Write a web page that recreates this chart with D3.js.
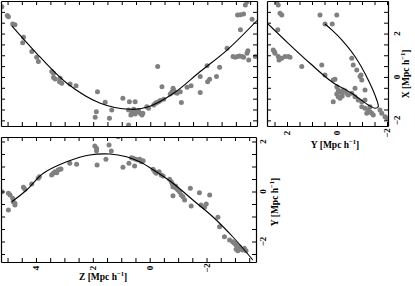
<!DOCTYPE html>
<html>
<head>
<meta charset="utf-8">
<script src="https://cdn.jsdelivr.net/npm/d3@7/dist/d3.min.js"></script>
<style>
  body { margin: 0; background: #fff; }
  svg { display: block; }
  .lbl { font-family: "Liberation Serif", "DejaVu Serif", serif; font-weight: bold; fill: #000; }
</style>
</head>
<body>
<div id="chart"></div>
<script>
// projected positions [Mpc/h]: top-left Z-X, top-right Y-X, bottom Z-Y
const zxPoints = [
  [5.20, 3.24], [5.01, 2.83], [4.97, 2.78], [4.82, 2.44], [4.74, 2.40], [4.44, 1.83], [4.47, 1.58],
  [4.15, 1.17], [3.98, 0.91], [3.92, 0.71], [3.45, 0.25], [3.39, 0.17], [3.39, -0.02], [3.33, -0.09],
  [3.16, -0.06], [3.18, -0.22], [3.10, -0.29], [2.81, -0.32], [2.60, -0.41], [1.85, -0.68], [1.58, -1.17],
  [1.35, -1.52], [1.89, -1.60], [1.93, -1.86], [1.43, -1.90], [0.96, -0.98], [0.73, -1.14], [0.53, -1.14],
  [0.76, -1.52], [0.64, -1.60], [0.58, -1.49], [0.47, -1.60], [0.41, -1.55], [0.35, -1.67], [0.68, -1.75],
  [0.53, -1.71], [0.29, -1.75], [0.26, -1.67], [0.76, -2.21], [0.06, -1.44], [0.12, -1.37], [-0.12, -1.29],
  [-0.18, -1.21], [-0.23, -1.18], [-0.29, -1.14], [-0.35, -1.09], [-0.47, -1.03], [-0.26, 0.48], [-0.41, -0.45],
  [-0.70, -0.78], [-0.76, -0.68], [-0.82, -0.60], [-0.80, -0.52], [-0.88, -0.72], [-0.94, -0.75], [-1.05, -0.68],
  [-1.09, -1.18], [-1.29, -0.48], [-1.43, -0.41], [-1.75, -0.72], [-1.75, 0.02], [-1.99, 0.52], [-2.01, -0.22],
  [-2.08, -0.11], [-2.32, 0.02], [-2.43, 0.45], [-2.69, 1.32], [-2.90, 0.94], [-2.98, 0.91], [-3.06, 0.94],
  [-3.13, 0.97], [-3.22, 0.94], [-3.27, 0.91], [-3.42, 1.21], [-3.39, 1.09], [-3.45, 0.78], [-3.68, 0.94],
  [-3.06, 2.86], [-3.16, 2.87], [-3.27, 2.90], [-3.16, 2.17], [-3.33, 3.32], [-3.39, 3.47], [-3.57, 2.66]
];
const zxCurve = [
  [4.85, 2.35], [4.09, 1.24], [2.92, -0.29], [1.75, -1.21], [0.70, -1.49], [0.12, -1.40],
  [-0.82, -0.75], [-1.75, 0.25], [-2.69, 1.24], [-3.74, 2.60]
];

const yxPoints = [
  [2.41, 3.47], [2.35, 3.32], [2.28, 2.93], [2.21, 2.86], [0.68, 2.86], [0.01, 2.86], [0.48, 2.44],
  [0.19, 2.44], [2.37, 2.17], [2.55, 1.24], [2.51, 1.17], [2.48, 1.09], [2.35, 0.94], [2.21, 0.86],
  [2.08, 0.94], [1.95, 0.94], [1.88, 0.91], [2.32, 0.78], [1.41, 0.48], [0.61, 0.55], [-0.59, 0.86],
  [-0.65, 0.55], [-0.79, 0.32], [-0.92, 0.02], [-0.99, -0.14], [-0.96, 0.09], [0.48, 0.09], [0.15, -0.14],
  [0.08, -0.11], [0.01, -0.45], [-0.05, -0.60], [-0.12, -0.68], [-0.19, -0.72], [-0.25, -0.60], [-0.32, -0.63],
  [-0.39, -0.75], [-0.45, -0.83], [0.01, -0.78], [-0.05, -0.91], [-0.12, -0.98], [-0.21, -0.88], [-0.59, -0.75],
  [-0.72, -0.91], [-0.85, -1.06], [-0.99, -1.14], [-1.12, -1.06], [0.15, -1.14], [-0.72, -0.52], [-1.12, -0.60],
  [-0.99, -1.37], [-1.12, -1.44], [-1.25, -1.52], [-1.32, -1.60], [-1.39, -1.67], [-1.45, -1.75], [-1.19, -1.67],
  [-1.32, -1.37], [-1.72, -1.52], [-1.79, -1.67], [-1.92, -1.83], [-1.99, -1.90]
];
const yxCurve = [
  [2.81, 2.50], [1.95, 1.55], [1.08, 0.63], [0.21, -0.22], [-0.59, -0.75], [-1.25, -1.29], [-1.52, -1.44],
  [-1.65, -1.37], [-1.59, -1.06], [-1.25, -0.14], [-0.72, 0.94], [-0.19, 1.71], [0.21, 2.17], [0.48, 2.44]
];

const zyPoints = [
  [5.20, -0.01], [4.97, -0.07], [4.91, -0.14], [4.82, -0.27], [4.80, -0.41], [4.74, -0.47], [4.74, -0.54],
  [4.97, -0.74], [4.44, 0.17], [4.39, 0.09], [4.15, 0.30], [3.92, 0.53], [3.88, 0.59], [3.45, 0.66],
  [3.39, 0.73], [3.33, 0.79], [3.27, 0.75], [3.22, 0.86], [3.16, 0.89], [3.12, 0.90], [2.81, 1.13],
  [2.57, 1.09], [1.93, 1.82], [1.87, 1.73], [1.87, 1.63], [1.85, 1.06], [1.54, 1.29], [1.43, 1.86],
  [1.35, 1.62], [1.11, 2.19], [0.94, 0.97], [0.73, 1.13], [0.64, 1.35], [0.58, 1.33], [0.53, 1.02],
  [0.49, 1.29], [0.41, 1.26], [0.35, 1.29], [0.29, 1.19], [0.23, 1.23], [-0.12, 0.89], [-0.18, 0.79],
  [-0.23, 0.73], [-0.33, 0.79], [-0.41, 0.66], [-0.47, 0.62], [-0.70, 0.49], [-0.76, 0.39], [-0.80, 0.30],
  [-0.82, 0.19], [-0.88, 0.17], [-0.91, 0.22], [-0.94, 0.13], [-0.99, 0.06], [-1.05, -0.01], [-1.11, -0.14],
  [-0.82, -0.17], [-1.17, -0.21], [-1.23, -0.34], [-1.43, 0.13], [-1.46, -0.58], [-1.75, -0.05], [-1.81, -0.54],
  [-1.93, -0.63], [-1.99, -0.50], [-2.11, -0.14], [-2.40, -1.03], [-2.46, -1.41], [-2.63, -1.81], [-2.81, -1.94],
  [-2.92, -2.01], [-2.98, -2.07], [-3.04, -2.14], [-3.10, -2.27], [-3.16, -2.21], [-3.22, -2.31], [-3.27, -2.34],
  [-3.33, -2.27], [-3.39, -2.37], [-3.04, -2.31], [-3.10, -2.37]
];
const zyCurve = [
  [4.85, -0.41], [4.33, 0.06], [3.74, 0.73], [2.92, 1.19], [2.11, 1.46], [1.40, 1.50], [0.82, 1.39],
  [0.35, 1.19], [-0.23, 0.79], [-0.82, 0.33], [-1.52, -0.34], [-2.22, -1.01], [-2.92, -1.81], [-3.63, -2.74]
];

const zLabels = [4, 2, 0, -2];
const yLabels = [2, 0, -2];
const xLabels = [2, 0, -2];

const svg = d3.select("#chart").append("svg")
  .attr("width", 415)
  .attr("height", 286);

const zDomain = [5.23, -3.74];
const xDomain = [3.5, -2.26];

function fmt(v) { return v < 0 ? "\u2212" + Math.abs(v) : String(v); }

function panel(id, x, y, pts, curve) {
  const [x0, x1] = x.range();
  const [y0, y1] = y.range();

  svg.append("clipPath").attr("id", id)
    .append("rect").attr("x", x0).attr("y", y0).attr("width", x1 - x0).attr("height", y1 - y0);

  const g = svg.append("g").attr("clip-path", `url(#${id})`);
  g.selectAll("circle")
    .data(pts)
    .enter()
    .append("circle")
    .attr("cx", d => x(d[0]))
    .attr("cy", d => y(d[1]))
    .attr("r", 2.5)
    .attr("fill", "#808080");

  const line = d3.line()
    .x(d => x(d[0]))
    .y(d => y(d[1]))
    .curve(d3.curveCatmullRom.alpha(0.5));

  g.append("path")
    .datum(curve)
    .attr("fill", "none")
    .attr("stroke", "#000")
    .attr("stroke-width", 1.1)
    .attr("d", line);

  // frame with inward ticks every 0.5
  const xt = d3.range(Math.ceil(Math.min(...x.domain()) * 2) / 2, Math.max(...x.domain()), 0.5);
  const yt = d3.range(Math.ceil(Math.min(...y.domain()) * 2) / 2, Math.max(...y.domain()), 0.5);
  const frame = svg.append("g");
  frame.append("g").attr("transform", `translate(0,${y1})`)
    .call(d3.axisBottom(x).tickValues(xt).tickSize(-4).tickSizeOuter(0).tickFormat(""));
  frame.append("g").attr("transform", `translate(0,${y0})`)
    .call(d3.axisTop(x).tickValues(xt).tickSize(-4).tickSizeOuter(0).tickFormat(""));
  frame.append("g").attr("transform", `translate(${x0},0)`)
    .call(d3.axisLeft(y).tickValues(yt).tickSize(-4).tickSizeOuter(0).tickFormat(""));
  frame.append("g").attr("transform", `translate(${x1},0)`)
    .call(d3.axisRight(y).tickValues(yt).tickSize(-4).tickSizeOuter(0).tickFormat(""));
  frame.selectAll("path.domain").attr("stroke", "#000").attr("stroke-width", 1.2);
  frame.selectAll(".tick line").attr("stroke", "#000").attr("stroke-width", 1);
}

// top-left: Z vs X
const xA = d3.scaleLinear().domain(zDomain).range([1, 257]);
const yA = d3.scaleLinear().domain(xDomain).range([1, 126]);
panel("clipA", xA, yA, zxPoints, zxCurve);

// top-right: Y vs X
const xC = d3.scaleLinear().domain([2.8, -2.04]).range([267, 388]);
const yC = d3.scaleLinear().domain(xDomain).range([1, 126]);
panel("clipC", xC, yC, yxPoints, yxCurve);

// bottom: Z vs Y
const xB = d3.scaleLinear().domain(zDomain).range([1, 256]);
const yB = d3.scaleLinear().domain([2.18, -2.82]).range([137, 262]);
panel("clipB", xB, yB, zyPoints, zyCurve);

// rotated tick labels
function vlabel(px, py, t, size) {
  svg.append("text")
    .attr("class", "lbl")
    .attr("transform", `translate(${px},${py}) rotate(-90)`)
    .attr("text-anchor", "middle")
    .attr("dy", "0.35em")
    .style("font-size", size + "px")
    .text(t);
}
zLabels.forEach(v => vlabel(xB(v), 268, fmt(v), 9));
yLabels.forEach(v => vlabel(263, yB(v), fmt(v), 9));
yLabels.forEach(v => vlabel(xC(v), 133, fmt(v), 9));
xLabels.forEach(v => vlabel(397, yC(v), fmt(v), 9));

function axisTitle(g, name) {
  g.append("tspan").text(name + " [Mpc h");
  g.append("tspan").attr("dy", -4).style("font-size", "6.5px").text("\u22121");
  g.append("tspan").attr("dy", 4).text("]");
}
axisTitle(svg.append("text").attr("class", "lbl").attr("x", 103).attr("y", 280)
  .attr("text-anchor", "middle").style("font-size", "9.5px"), "Z");
axisTitle(svg.append("text").attr("class", "lbl").attr("x", 335).attr("y", 148)
  .attr("text-anchor", "middle").style("font-size", "9.5px"), "Y");
axisTitle(svg.append("text").attr("class", "lbl")
  .attr("transform", "translate(275,202) rotate(-90)")
  .attr("text-anchor", "middle").attr("dy", "0.35em").style("font-size", "9.5px"), "Y");
axisTitle(svg.append("text").attr("class", "lbl")
  .attr("transform", "translate(406,74) rotate(-90)")
  .attr("text-anchor", "middle").attr("dy", "0.35em").style("font-size", "9.5px"), "X");
</script>
</body>
</html>
